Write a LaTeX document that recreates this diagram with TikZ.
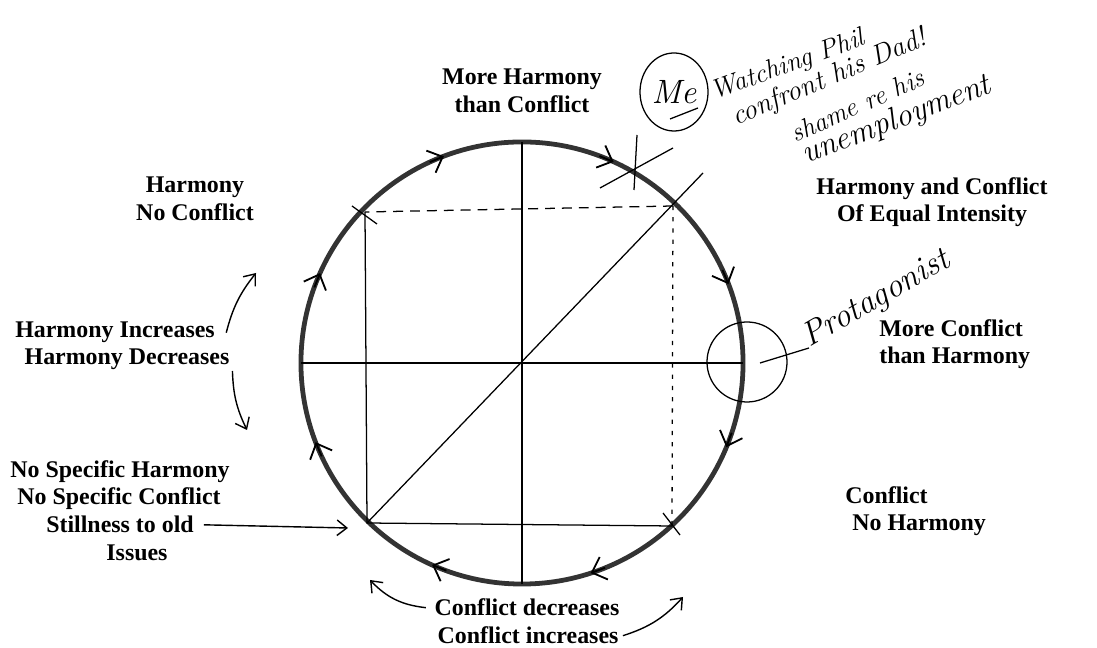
\documentclass[tikz,border=0pt]{standalone}
\usepackage{fontspec}
\newfontfamily\lblfont{Liberation Serif}
\usepackage{tikz}
\usetikzlibrary{positioning,arrows.meta,calc,shapes.geometric}

\tikzset{
  lbl/.style={font={\lblfont\bfseries\fontsize{17}{19.5}\selectfont}, align=center, inner sep=0pt},
  handtxt/.style={font={\itshape\fontsize{#1}{#1}\selectfont}, inner sep=0pt},
  handtxt/.default=21,
  rim/.style={draw=black!80, line width=3.4pt},
  thinln/.style={line width=0.9pt},
  cwtip/.style={line width=1.3pt, -{Straight Barb[length=9pt,width=17pt]}},
  handarr/.style={line width=1pt, -{Straight Barb[length=7pt,width=11pt]}},
}

\begin{document}
\begin{tikzpicture}[x=0.025cm, y=0.025cm]
\useasboundingbox (0,0) rectangle (1097,648);

% the wheel
\node[circle, rim, minimum size=11.05cm, inner sep=0pt, outer sep=0pt] (O) at (522,285) {};

\coordinate (tl) at (365,436);
\coordinate (tr) at (673,442);
\coordinate (bl) at (367,125);
\coordinate (br) at (672,122);
\coordinate (diagend) at (703,475);

\draw[thinln] (O.north) -- (O.south);
\draw[thinln] (O.west) -- (O.east);
\draw[thinln] (tl) -- (bl) -- (br);
\draw[thinln] (bl) -- (diagend);
\draw[thinln, dash pattern=on 7pt off 5pt] (tr) -- (tl);
\draw[thinln, dash pattern=on 3pt off 5pt] (tr) -- (br);

% clockwise arrows on the rim
\foreach \a [evaluate=\a as \b using \a+4] in {110.7,156,20.9,-22.4,-71.9,246,201,65.5}
  \draw[cwtip] ($(O.center)+(\b:221)$) -- ($(O.center)+(\a:221)$);

% tick marks
\draw[thinln] (600,460) -- (673,500);
\draw[thinln] (637,513) -- (634,458);
\draw[thinln] (352,442) -- (377,424);
\draw[thinln] (663,135) -- (680,113);

% labels
\node[lbl] (moreharm) at (522,557) {More Harmony\\than Conflict};
\node[lbl] (harmnc) at (195,449) {Harmony\\No Conflict};
\node[lbl] (equal) at (932,446) {Harmony and Conflict\\Of Equal Intensity};
\node[lbl, anchor=west, align=left] (moreconf) at (879,304) {More Conflict\\than Harmony};
\node[lbl, anchor=base] (hinc) at (115,310) {Harmony Increases};
\node[lbl, anchor=base] (hdec) at (127,283) {Harmony Decreases};
\node[lbl, anchor=base] (nsh) at (120,170) {No Specific Harmony};
\node[lbl, anchor=base] (nsc) at (119,143) {No Specific Conflict};
\node[lbl, anchor=base] (still) at (120,115) {Stillness to old};
\node[lbl, anchor=base] (issues) at (137,87) {Issues};
\node[lbl, anchor=west, align=left] (confnh) at (845,137) {Conflict\\\hspace{5pt}No Harmony};
\node[lbl, anchor=base] (cdec) at (527,32) {Conflict decreases};
\node[lbl, anchor=base] (cinc) at (528,4) {Conflict increases};

% hand drawn arrows
\coordinate (hinctip) at (256,375);
\coordinate (hdectip) at (247,218);
\coordinate (stilltip) at (348,120);
\coordinate (cdectip) at (370,68);
\coordinate (cinctip) at (683,51);
\draw[handarr] ([xshift=8pt]hinc.east) to[bend left=12] (hinctip);
\draw[handarr] ([xshift=2pt,yshift=-8pt]hdec.east) to[bend right=12] (hdectip);
\draw[handarr] ([xshift=7pt]still.east) -- (stilltip);
\draw[handarr] ([xshift=-6pt]cdec.west) to[bend left=20] (cdectip);
\draw[handarr] ([xshift=3pt]cinc.east) to[bend right=15] (cinctip);

% handwriting
\node[ellipse, draw, thinln, minimum width=1.7cm, minimum height=1.95cm, handtxt=24] (me) at (674,556) {Me};
\draw[thinln] ($(me.center)+(-4,-27)$) -- ($(me.center)+(24,-16)$);
\node[handtxt=19, rotate=20, anchor=base west] (watch) at (714,548) {Watching Phil};
\node[handtxt=20, rotate=23, anchor=base west] (confr) at (736,522) {confront his Dad!};
\node[handtxt=19, rotate=24, anchor=base west] (shame) at (795,505) {shame re his};
\node[handtxt=23, rotate=21, anchor=base west] (unemp) at (806,484) {unemployment};

\node[ellipse, draw, thinln, minimum width=2cm, minimum height=2cm] (pcirc) at (747,286) {};
\coordinate (pdot) at (760,285);
\node[handtxt=24, rotate=30, anchor=base west] (prot) at (809,300) {Protagonist};
\draw[thinln] (pdot) -- (prot.base west);
\end{tikzpicture}
\end{document}
